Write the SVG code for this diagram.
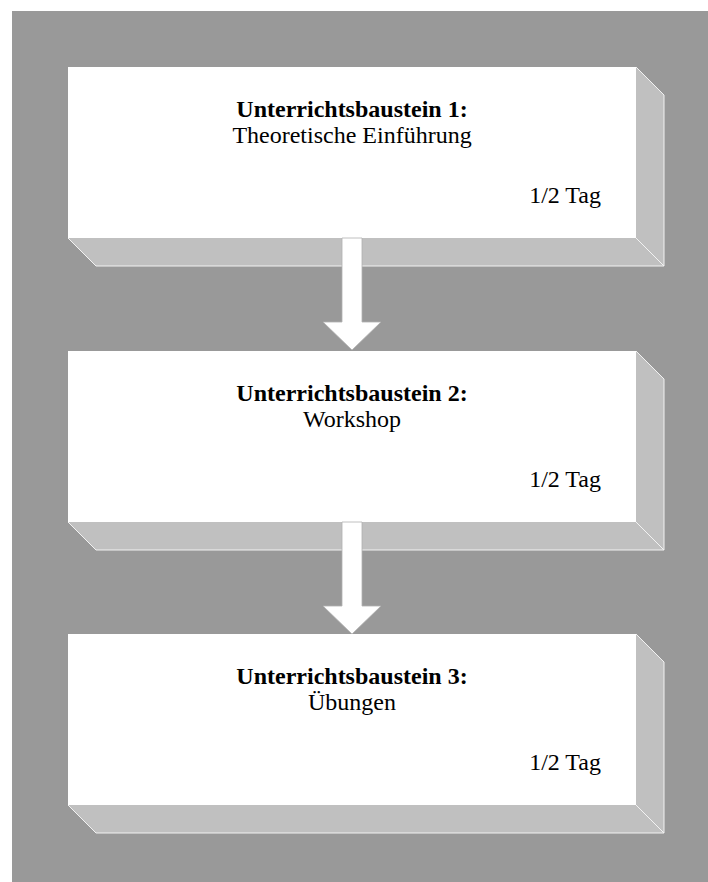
<svg xmlns="http://www.w3.org/2000/svg" width="708" height="882" viewBox="0 0 708 882">
  <style>
    .front { fill: #ffffff; }
    .depth { fill: #c0c0c0; }
    .edge { fill: none; stroke: #f2f2f2; stroke-width: 1; }
    .title { font-family: "Liberation Serif", "Times New Roman", serif; font-size: 24px; font-weight: bold; fill: #000; text-anchor: middle; }
    .sub { font-family: "Liberation Serif", "Times New Roman", serif; font-size: 24px; fill: #000; text-anchor: middle; }
    .dur { font-family: "Liberation Serif", "Times New Roman", serif; font-size: 24px; fill: #000; text-anchor: end; }
    .arrow { fill: #ffffff; stroke: #b0b0b0; stroke-width: 0.8; }
  </style>
  <defs>
    <g id="block">
      <rect class="front" x="0" y="0" width="568" height="171"/>
      <polygon class="depth" points="568,0 596,28 596,199 568,171"/>
      <polygon class="depth" points="0,171 568,171 596,199 28,199"/>
      <polyline class="edge" points="568,0 596,28 596,199 28,199 0,171"/>
      <line class="edge" x1="568" y1="171" x2="596" y2="199"/>
    </g>
  </defs>
  <rect x="12" y="11" width="696" height="871" fill="#999999"/>

  <g id="node1">
    <use href="#block" x="68" y="67"/>
    <text class="title" x="352" y="117">Unterrichtsbaustein 1:</text>
    <text class="sub" x="352" y="143">Theoretische Einführung</text>
    <text class="dur" x="601" y="203">1/2 Tag</text>
  </g>

  <g id="node2">
    <use href="#block" x="68" y="351"/>
    <text class="title" x="352" y="401">Unterrichtsbaustein 2:</text>
    <text class="sub" x="352" y="427">Workshop</text>
    <text class="dur" x="601" y="487">1/2 Tag</text>
  </g>

  <g id="node3">
    <use href="#block" x="68" y="634"/>
    <text class="title" x="352" y="684">Unterrichtsbaustein 3:</text>
    <text class="sub" x="352" y="710">Übungen</text>
    <text class="dur" x="601" y="770">1/2 Tag</text>
  </g>

  <g id="connectors">
    <polygon class="arrow" points="342,238 362,238 362,322 381,322 352,350 323,322 342,322"/>
    <polygon class="arrow" points="342,522 362,522 362,606 381,606 352,634 323,606 342,606"/>
  </g>
</svg>
